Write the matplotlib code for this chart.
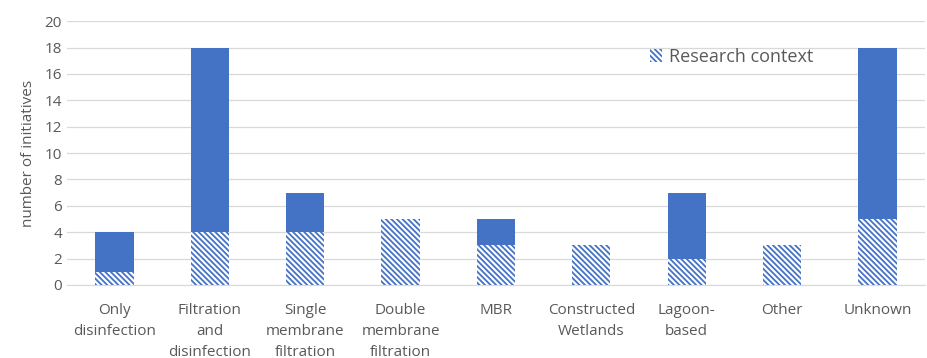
import matplotlib
matplotlib.use("Agg")
import matplotlib.pyplot as plt
import numpy as np

categories = ["Only\ndisinfection", "Filtration\nand\ndisinfection", "Single\nmembrane\nfiltration",
              "Double\nmembrane\nfiltration", "MBR", "Constructed\nWetlands", "Lagoon-\nbased",
              "Other", "Unknown"]
research = [1, 4, 4, 5, 3, 3, 2, 3, 5]
other = [3, 14, 3, 0, 2, 0, 5, 0, 13]
yticks = [0, 2, 4, 6, 8, 10, 12, 14, 16, 18, 20]

blue = "#4472C4"
gray = "#595959"

plt.rcParams["font.family"] = ["Open Sans", "DejaVu Sans"]
plt.rcParams["hatch.linewidth"] = 1.3

fig = plt.figure(figsize=(9.27, 3.58), dpi=100)
ax = fig.add_axes([0.072, 0.204, 0.926, 0.737])

x = np.arange(len(categories))
w = 0.4
ax.bar(x, research, w, facecolor="white", edgecolor=blue, hatch="\\" * 6, linewidth=0,
       label="Research context", zorder=3)
ax.bar(x, other, w, bottom=research, color=blue, linewidth=0, zorder=3)

ax.set_xlim(-0.5, len(categories) - 0.5)
ax.set_ylim(0, 20)
ax.set_yticks(yticks)
ax.yaxis.grid(True, color="#D9D9D9", linewidth=0.9, zorder=0)
ax.set_axisbelow(True)
for s in ["top", "right", "left"]:
    ax.spines[s].set_visible(False)
ax.spines["bottom"].set_color("#D9D9D9")
ax.tick_params(axis="both", length=0, colors=gray, labelsize=11)
ax.tick_params(axis="x", pad=13)
ax.set_xticks(x)
ax.set_xticklabels(categories, linespacing=1.55, va="top")
ax.set_ylabel("number of initiatives", color=gray, fontsize=11, labelpad=6)

leg = ax.legend(loc="upper left", bbox_to_anchor=(0.66, 0.96), frameon=False,
                fontsize=13, labelcolor=gray, handlelength=0.7, handleheight=0.7,
                handletextpad=0.4)

fig.savefig("out.png", dpi=100)
